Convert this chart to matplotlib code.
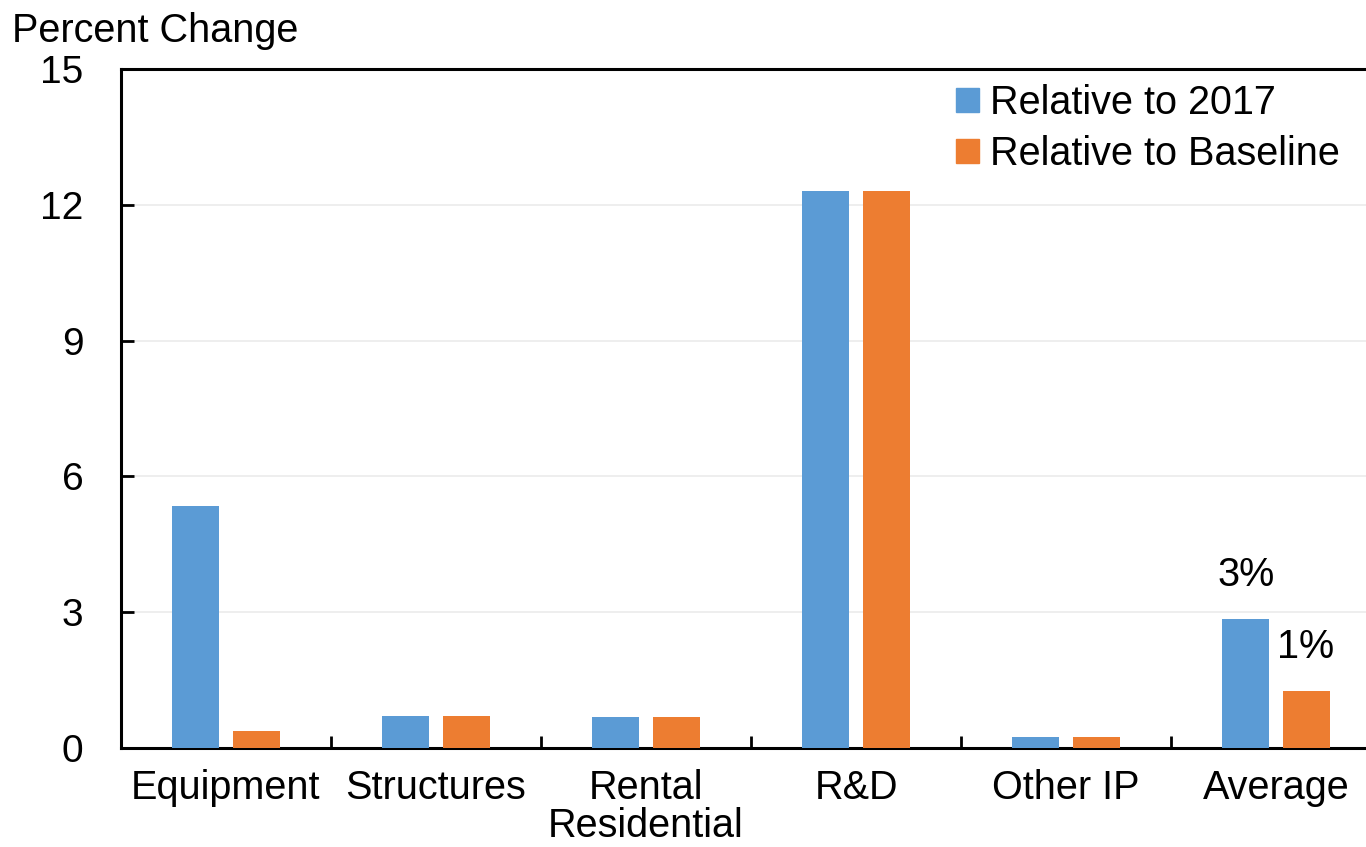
import matplotlib
matplotlib.use('Agg')

import matplotlib.pyplot as plt
import numpy as np
from matplotlib.patches import Patch

plt.rcParams['font.family'] = ['Liberation Sans', 'DejaVu Sans']

categories = ['Equipment', 'Structures', 'Rental\nResidential', 'R&D', 'Other IP', 'Average']
rel_2017 = [5.35, 0.71, 0.69, 12.30, 0.25, 2.86]
rel_baseline = [0.38, 0.71, 0.69, 12.30, 0.25, 1.26]
series_names = ['Relative to 2017', 'Relative to Baseline']
avg_labels = ['3%', '1%']

blue = '#5B9BD5'
orange = '#ED7D31'

fig = plt.figure(figsize=(13.66, 8.47), dpi=100)
ax = fig.add_axes([121 / 1366, 1 - 748 / 847, 1260 / 1366, 679 / 847])

x = np.arange(len(categories))
w = 0.224
ax.bar(x - 0.143, rel_2017, width=w, color=blue, zorder=3)
ax.bar(x + 0.143, rel_baseline, width=w, color=orange, zorder=3)

ax.set_xlim(-0.5, len(categories) - 0.5)
ax.set_ylim(0, 15)
ax.set_yticks(np.arange(0, 16, 3))
ax.grid(axis='y', color='#ebebeb', linewidth=1.2, zorder=0)
ax.set_axisbelow(True)

ax.set_xticks(x)
ax.set_xticklabels(categories, fontsize=28.5, linespacing=1.02)
ax.set_xticks(np.arange(0.5, len(categories) - 0.5, 1), minor=True)
ax.tick_params(axis='x', which='major', length=0, pad=15)
ax.tick_params(axis='x', which='minor', direction='in', length=9, width=2)
ax.tick_params(axis='y', direction='in', length=9, width=2, labelsize=28, pad=27)

for side in ['left', 'bottom', 'top']:
    ax.spines[side].set_linewidth(2.2)
ax.spines['right'].set_visible(False)

# labels on the Average bars
ax.text(x[-1] - 0.143, rel_2017[-1] + 0.55, avg_labels[0], ha='center', va='bottom', fontsize=28.5)
ax.text(x[-1] + 0.143, rel_2017[-1] - 0.63, avg_labels[1], ha='center', va='center', fontsize=28.5)

fig.text(12 / 1366, 1 - 31 / 847, 'Percent Change', fontsize=28.5, va='center', ha='left')

handles = [Patch(color=blue, label=series_names[0]), Patch(color=orange, label=series_names[1])]
fig.legend(handles=handles, loc='upper left', bbox_to_anchor=(956 / 1366, 1 - 84 / 847),
           frameon=False, fontsize=28.5, handlelength=0.57, handleheight=0.57,
           handletextpad=0.28, labelspacing=0.32, borderpad=0, borderaxespad=0)

plt.savefig('out.png', dpi=100)
